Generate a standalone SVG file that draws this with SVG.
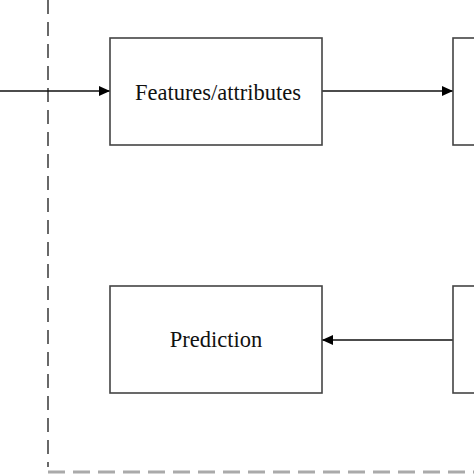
<svg xmlns="http://www.w3.org/2000/svg" width="474" height="474" viewBox="0 0 474 474">
<defs>
<style>
.box{fill:#fff;stroke:#444;stroke-width:1.6}
.lbl{font-family:"Liberation Serif","Times New Roman",serif;font-size:22.5px;fill:#111;text-anchor:middle}
.conn{stroke:#111;stroke-width:1.6;fill:none}
</style>
<marker id="ah" viewBox="0 0 11 10" refX="11" refY="5" markerWidth="11" markerHeight="10" markerUnits="userSpaceOnUse" orient="auto">
<path d="M0,0 L11,5 L0,10 Z" fill="#000"/>
</marker>
</defs>
<rect width="474" height="474" fill="#fff"/>
<g id="boundary">
<line x1="48" y1="0" x2="48" y2="467" stroke="#444" stroke-width="1.6" stroke-dasharray="14 8"/>
<line x1="48" y1="472" x2="474" y2="472" stroke="#aaa" stroke-width="3" stroke-dasharray="17 8"/>
</g>
<g id="connectors">
<line class="conn" x1="0" y1="91" x2="110" y2="91" marker-end="url(#ah)"/>
<line class="conn" x1="322" y1="91" x2="453" y2="91" marker-end="url(#ah)"/>
<line class="conn" x1="453" y1="340" x2="322" y2="340" marker-end="url(#ah)"/>
</g>
<g id="features">
<rect class="box" x="110" y="38" width="212" height="107"/>
<text class="lbl" x="218" y="100">Features/attributes</text>
</g>
<g id="model">
<rect class="box" x="453" y="38" width="60" height="107"/>
</g>
<g id="prediction">
<rect class="box" x="110" y="286" width="212" height="107"/>
<text class="lbl" x="216" y="347">Prediction</text>
</g>
<g id="output">
<rect class="box" x="453" y="286" width="60" height="107"/>
</g>
</svg>
